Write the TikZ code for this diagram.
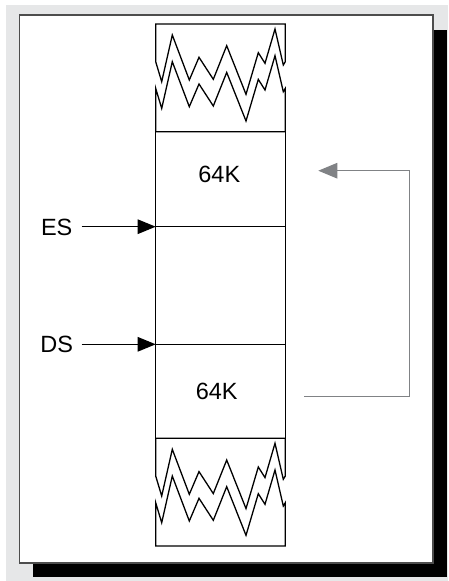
\documentclass[tikz,border=0pt]{standalone}
\usepackage{fontspec}
\setmainfont{Liberation Sans}
\usetikzlibrary{arrows.meta}
\definecolor{bggray}{HTML}{E6E7E8}
\definecolor{framegray}{HTML}{4D4D4D}
\definecolor{arrowgray}{HTML}{808285}
\begin{document}
\begin{tikzpicture}[x=1pt,y=-1pt,
  cell/.style={draw=black, line width=1.3pt, minimum width=129.6pt, inner sep=0pt, outer sep=0pt},
  zig/.style={draw=black, line width=1.3pt, fill=white, line join=miter},
  lbl/.style={font=\fontsize{23.5}{27}\selectfont, inner sep=0pt},
  blackarrow/.style={draw=black, line width=1.2pt, -{Triangle[length=18pt,width=14.5pt]}},
  grayarrow/.style={draw=arrowgray, line width=1.2pt, -{Triangle[length=19pt,width=15.5pt]}}]
\useasboundingbox (0,0) rectangle (448,581);
\fill[white] (0,0) rectangle (448,581);
\fill[bggray] (6,5) rectangle (448,581);
\fill[black] (33,30) rectangle (447,577);
\draw[framegray, line width=1.4pt, fill=white] (19.3,15) rectangle (433,563);

% middle boxes
\node[cell, minimum height=95pt] (box1) at (220.5,179.2) {};
\node[cell, minimum height=117.6pt] (box2) at (220.5,285.5) {};
\node[cell, minimum height=94.7pt] (box3) at (220.5,391.65) {};
\node[lbl] (k1) at (219.3,174.5) {64K};
\node[lbl] (k2) at (216.7,391.7) {64K};

% broken ends
\foreach \dy in {0,414.3}{
\begin{scope}[shift={(0,\dy)}]
\path[zig] (155.7,24) -- (285.3,24) -- (285.3,61.7) -- (283.3,65) -- (275,29) -- (265,63.3) -- (258.3,52.7) -- (246,94.3) -- (226.7,45.7) -- (213.3,79.3) -- (199,57.3) -- (189.3,80) -- (172.3,35) -- (161.7,81.7) -- (155.7,61.7) -- cycle;
\path[zig] (155.7,88.4) -- (161.7,108.4) -- (172.3,61.7) -- (189.3,106.7) -- (199,84) -- (213.3,106) -- (226.7,72.4) -- (246,121) -- (258.3,79.4) -- (265,90) -- (275,55.7) -- (283.3,91.7) -- (285.3,88.4) -- (285.3,131.7) -- (155.7,131.7) -- cycle;
\end{scope}}

% segment pointers
\node[lbl] (es) at (56.7,227.8) {ES};
\node[lbl] (ds) at (56.8,344) {DS};
\coordinate (esstart) at (81.7,226.7);
\coordinate (dsstart) at (81.7,344.3);
\draw[blackarrow] (esstart) -- (box2.north west);
\draw[blackarrow] (dsstart) -- (box3.north west);

% gray return arrow
\coordinate (g1) at (304,396.7);
\coordinate (g2) at (409.3,396.7);
\coordinate (g3) at (409.3,170.7);
\coordinate (g4) at (318.3,170.7);
\draw[grayarrow] (g1) -- (g2) -- (g3) -- (g4);
\end{tikzpicture}
\end{document}
